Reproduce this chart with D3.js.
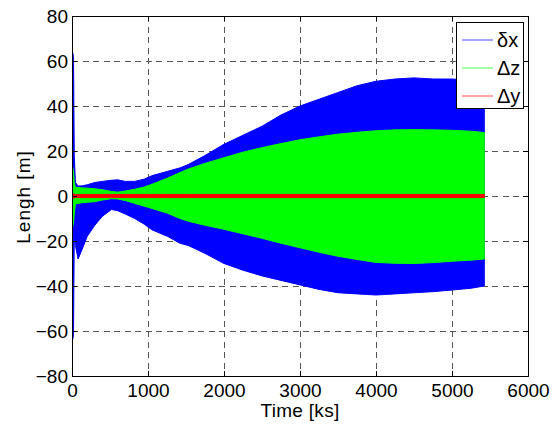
<!DOCTYPE html>
<html>
<head>
<meta charset="utf-8">
<script src="https://cdn.jsdelivr.net/npm/d3@7"></script>
<style>
  html, body { margin: 0; padding: 0; background: #fff; }
  svg { display: block; font-family: "Liberation Sans", Arial, Helvetica, sans-serif; }
</style>
</head>
<body>
<svg id="chart" width="555" height="429"></svg>
<script>
// ---- data (envelopes of the rapidly oscillating signals) ----
const time = [0, 20, 30, 45, 80, 130, 200, 300, 400, 520, 600, 700, 825, 950, 1050, 1260, 1420, 1530, 1750, 2000, 2250, 2500, 2750, 3000, 3250, 3500, 3750, 4000, 4250, 4500, 4750, 5000, 5250, 5425];
const dxMax = [65, 62, 18, 6, 4.5, 4.5, 5, 6, 6.5, 7, 7.2, 6.5, 6.5, 7.5, 9, 11, 12.5, 14, 18, 23, 27, 31, 36, 40, 43, 46, 49, 51, 52, 52.5, 52, 52, 51.5, 51];
const dxMin = [-65, -62, -17, -22, -28, -24, -18, -13, -9, -6, -6.5, -8, -10, -12.5, -15, -18, -21, -22, -25.5, -30, -33, -35.5, -37.5, -39.5, -41.5, -43, -43.5, -44, -43.5, -43, -42.5, -41.8, -41, -40];
const dzMax = [14, 11, 6, 3.8, 3.8, 3.6, 3.5, 3.2, 2.8, 2, 1.7, 2.2, 3, 4, 5.2, 8, 10.4, 12, 14.5, 17, 19.5, 21.5, 23.3, 25, 26.3, 27.5, 28.3, 29, 29.4, 29.5, 29.4, 29.2, 28.8, 28.2];
const dzMin = [-15, -12, -8, -3.5, -3.3, -3, -2.8, -2.5, -1.8, -1.2, -1.3, -2, -3.3, -4.5, -5.5, -7.7, -10, -11.2, -13, -14.8, -16.8, -18.8, -21, -23, -25, -26.8, -28.2, -29.5, -29.9, -30, -29.6, -29, -28.5, -28];
const dyMax = [1.5, 1, 0.8, 0.7, 0.7, 0.7, 0.7, 0.7, 0.7, 0.7, 0.7, 0.7, 0.7, 0.7, 0.7, 0.7, 0.7, 0.7, 0.7, 0.7, 0.7, 0.7, 0.7, 0.7, 0.7, 0.7, 0.7, 0.7, 0.7, 0.7, 0.7, 0.7, 0.7, 0.7];
const dyMin = [-1.5, -1, -0.8, -0.7, -0.7, -0.7, -0.7, -0.7, -0.7, -0.7, -0.7, -0.7, -0.7, -0.7, -0.7, -0.7, -0.7, -0.7, -0.7, -0.7, -0.7, -0.7, -0.7, -0.7, -0.7, -0.7, -0.7, -0.7, -0.7, -0.7, -0.7, -0.7, -0.7, -0.7];

const seriesNames = ["δx", "Δz", "Δy"];
const seriesColors = ["#0000ff", "#00ff00", "#ff0000"];
const xTicks = [0, 1000, 2000, 3000, 4000, 5000, 6000];
const yTicks = [-80, -60, -40, -20, 0, 20, 40, 60, 80];
const xLabel = "Time [ks]";
const yLabel = "Lengh [m]";

// ---- layout ----
const svg = d3.select("#chart");
const L = 72, T = 16, R = 528, B = 376;
const x = d3.scaleLinear().domain([0, 6000]).range([L, R]);
const y = d3.scaleLinear().domain([-80, 80]).range([B, T]);
const fontSize = 19;

svg.append("defs").append("clipPath").attr("id", "clip")
  .append("rect").attr("x", L).attr("y", T).attr("width", R - L).attr("height", B - T);

// grid
const grid = svg.append("g").attr("stroke", "#555").attr("stroke-width", 1)
  .attr("stroke-dasharray", "6,4.5").attr("shape-rendering", "crispEdges");
xTicks.slice(1, -1).forEach(v => grid.append("line")
  .attr("x1", Math.round(x(v)) + 0.5).attr("x2", Math.round(x(v)) + 0.5).attr("y1", T).attr("y2", B));
yTicks.slice(1, -1).forEach(v => grid.append("line")
  .attr("y1", Math.round(y(v)) + 0.5).attr("y2", Math.round(y(v)) + 0.5).attr("x1", L).attr("x2", R));

// data
const series = [
  { max: dxMax, min: dxMin },
  { max: dzMax, min: dzMin },
  { max: dyMax, min: dyMin }
];
const plot = svg.append("g").attr("clip-path", "url(#clip)");
series.forEach((s, i) => {
  const rows = time.map((t, k) => ({ t, hi: s.max[k], lo: s.min[k] }));
  const area = d3.area().x(d => x(d.t)).y0(d => y(d.lo)).y1(d => y(d.hi));
  plot.append("path").datum(rows).attr("d", area)
    .attr("fill", seriesColors[i]).attr("stroke", seriesColors[i]).attr("stroke-width", 1);
});

// axes (MATLAB style: box with inward ticks)
const tickLen = 5;
const axBottom = svg.append("g").attr("transform", `translate(0,${B})`)
  .call(d3.axisBottom(x).tickValues(xTicks).tickSize(-tickLen).tickPadding(8).tickFormat(d3.format("d")));
const axTop = svg.append("g").attr("transform", `translate(0,${T})`)
  .call(d3.axisTop(x).tickValues(xTicks).tickSize(-tickLen).tickFormat(""));
const axLeft = svg.append("g").attr("transform", `translate(${L},0)`)
  .call(d3.axisLeft(y).tickValues(yTicks).tickSize(-tickLen).tickPadding(4).tickFormat(d3.format("d")));
const axRight = svg.append("g").attr("transform", `translate(${R},0)`)
  .call(d3.axisRight(y).tickValues(yTicks).tickSize(-tickLen).tickFormat(""));
[axBottom, axTop, axLeft, axRight].forEach(a => {
  a.select(".domain").attr("stroke", "#000").attr("stroke-width", 1);
  a.selectAll(".tick line").attr("stroke", "#000");
  a.selectAll("text").attr("fill", "#000").attr("font-size", fontSize)
    .attr("font-family", "'Liberation Sans', Arial, sans-serif");
});
axLeft.selectAll("text").attr("dy", "0.36em");

// axis labels
svg.append("text").attr("x", (L + R) / 2).attr("y", 417).attr("text-anchor", "middle")
  .attr("font-size", fontSize).attr("letter-spacing", 0.3).attr("fill", "#000").text(xLabel);
svg.append("text").attr("transform", `translate(30,197) rotate(-90)`).attr("text-anchor", "middle")
  .attr("font-size", fontSize).attr("letter-spacing", 1).attr("fill", "#000").text(yLabel);

// legend
const lg = svg.append("g");
lg.append("rect").attr("x", 456.5).attr("y", 22.5).attr("width", 67).attr("height", 86)
  .attr("fill", "#fff").attr("stroke", "#000").attr("stroke-width", 1);
const legendY = [40, 68, 96];
seriesNames.forEach((n, i) => {
  lg.append("line").attr("x1", 462).attr("x2", 493).attr("y1", legendY[i]).attr("y2", legendY[i])
    .attr("stroke", seriesColors[i]).attr("stroke-width", 1).attr("stroke-opacity", 0.7);
  lg.append("text").attr("x", 497).attr("y", legendY[i]).attr("dy", "0.35em")
    .attr("font-size", 20).attr("fill", "#000").text(n);
});
</script>
</body>
</html>
